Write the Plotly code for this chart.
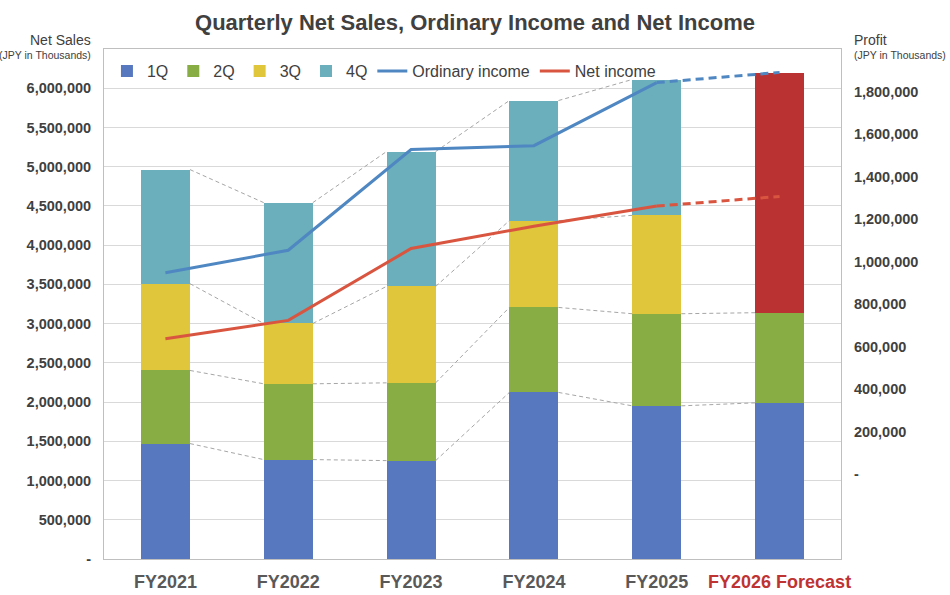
import plotly.graph_objects as go

# ---------------- data ----------------
years = ["FY2021", "FY2022", "FY2023", "FY2024", "FY2025", "FY2026 Forecast"]
q1 = [1471000, 1267000, 1254000, 2123000, 1952000, 1990000]
q2 = [932000, 966000, 991000, 1083000, 1174000, 1149000]
q3 = [1106000, 769000, 1229000, 1106000, 1254000, None]
q4 = [1454000, 1540000, 1719000, 1531000, 1731000, None]
forecast_total = [None, None, None, None, None, 6200000]
ordinary_income = [947000, 1053000, 1527000, 1545000, 1842000, 1890000]
net_income = [636000, 723000, 1061000, 1166000, 1261000, 1306000]

left_ticks = [0, 500000, 1000000, 1500000, 2000000, 2500000, 3000000,
              3500000, 4000000, 4500000, 5000000, 5500000, 6000000]
right_ticks = [0, 200000, 400000, 600000, 800000, 1000000, 1200000,
               1400000, 1600000, 1800000]

# ---------------- styling ----------------
C1, C2, C3, C4 = "#5778BF", "#88AD44", "#DFC63B", "#6AAFBB"
CF = "#BA3232"
C_ORD = "#4F87C2"
C_NET = "#D9553F"
TXT = "#404040"
FONT = "Liberation Sans, Arial, sans-serif"
BAR_W = 0.4

x = list(range(len(years)))

forecast_rest = [None if t is None else t - (a + b)
                 for t, a, b in zip(forecast_total, q1, q2)]

fig = go.Figure()

def cum(*series):
    out = []
    for vals in zip(*series):
        if any(v is None for v in vals):
            out.append(None)
        else:
            out.append(sum(vals))
    return out

# series connector lines (gray dashed) between stacked segment tops
levels = [cum(q1), cum(q1, q2), cum(q1, q2, q3), cum(q1, q2, q3, q4)]
for lev in levels:
    xs, ys = [], []
    for i in range(len(x) - 1):
        if lev[i] is None or lev[i + 1] is None:
            continue
        xs += [x[i] + BAR_W / 2, x[i + 1] - BAR_W / 2, None]
        ys += [lev[i], lev[i + 1], None]
    fig.add_trace(go.Scatter(x=xs, y=ys, mode="lines",
                             line=dict(color="#A6A6A6", width=1, dash="4px,3px"),
                             showlegend=False, hoverinfo="skip"))

for name, vals, col in [("1Q", q1, C1), ("2Q", q2, C2), ("3Q", q3, C3), ("4Q", q4, C4)]:
    fig.add_trace(go.Bar(x=x, y=vals, name=name, marker=dict(color=col, line=dict(width=0)),
                         width=BAR_W))
fig.add_trace(go.Bar(x=x, y=forecast_rest, name="Forecast", showlegend=False,
                     marker=dict(color=CF, line=dict(width=0)), width=BAR_W))

# lines on secondary axis: solid actuals, dashed forecast segment
fig.add_trace(go.Scatter(x=x[:5], y=ordinary_income[:5], name="Ordinary income",
                         mode="lines", line=dict(color=C_ORD, width=3), yaxis="y2"))
fig.add_trace(go.Scatter(x=x[4:], y=ordinary_income[4:], showlegend=False,
                         mode="lines", line=dict(color=C_ORD, width=3, dash="8px,5px"),
                         yaxis="y2"))
fig.add_trace(go.Scatter(x=x[:5], y=net_income[:5], name="Net income",
                         mode="lines", line=dict(color=C_NET, width=3), yaxis="y2"))
fig.add_trace(go.Scatter(x=x[4:], y=net_income[4:], showlegend=False,
                         mode="lines", line=dict(color=C_NET, width=3, dash="8px,5px"),
                         yaxis="y2"))

def fmt(v):
    return "-" if v == 0 else f"{v:,}"

ticktext_x = [f"<b>{y}</b>" for y in years[:-1]] + \
    [f"<b><span style='color:#BF3333'>{years[-1]}</span></b>"]

fig.update_layout(
    width=950, height=595,
    margin=dict(l=104, r=109, t=49, b=36, autoexpand=False),
    paper_bgcolor="white", plot_bgcolor="white",
    font=dict(family=FONT, color=TXT),
    barmode="stack",
    title=dict(text="<b>Quarterly Net Sales, Ordinary Income and Net Income</b>",
               x=0.5, xanchor="center", y=0.962, yanchor="middle",
               font=dict(size=22, color=TXT, family=FONT)),
    xaxis=dict(range=[-0.5, 5.5], tickvals=x, ticktext=ticktext_x,
               tickfont=dict(size=18, color="#595959"), automargin=False,
               showgrid=False, showline=True, linecolor="#BFBFBF", linewidth=1,
               mirror=True, ticks="", zeroline=False, ticklabelstandoff=6),
    yaxis=dict(range=[0, 6500000], tickvals=left_ticks,
               ticktext=[f"<b>{fmt(v)}</b>" for v in left_ticks],
               tickfont=dict(size=14.5, color=TXT), automargin=False,
               showgrid=True, gridcolor="#D9D9D9", gridwidth=1,
               showline=True, linecolor="#BFBFBF", linewidth=1,
               zeroline=False, ticks="", ticklabelstandoff=9),
    yaxis2=dict(range=[-400000, 2000000], overlaying="y", side="right",
                tickvals=right_ticks,
                ticktext=[f"<b>{fmt(v)}</b>" for v in right_ticks],
                tickfont=dict(size=14.5, color=TXT), automargin=False,
                showgrid=False, showline=True, linecolor="#BFBFBF", linewidth=1,
                zeroline=False, ticks="", ticklabelstandoff=9),
    legend=dict(orientation="h", x=0.004, xanchor="left", y=0.99, yanchor="top",
                font=dict(size=16, color=TXT), bgcolor="rgba(0,0,0,0)",
                traceorder="normal", itemwidth=30),
    showlegend=True,
)

annots = [
    dict(text="Net Sales", x=93, y=40, xanchor="right"),
    dict(text="(JPY in Thousands)", x=93, y=55, xanchor="right", size=10.5),
    dict(text="Profit", x=852, y=40, xanchor="left"),
    dict(text="(JPY in Thousands)", x=852, y=55, xanchor="left", size=10.5),
]
for a in annots:
    fig.add_annotation(text=a["text"], xref="paper", yref="paper",
                       x=(a["x"] - 104) / 737, y=(559 - a["y"]) / 510,
                       xanchor=a["xanchor"], yanchor="middle", showarrow=False,
                       font=dict(size=a.get("size", 14), color=TXT, family=FONT))

fig.write_html("out.html", config={"displayModeBar": False},
               post_script="document.body.style.margin='0px';document.body.style.padding='0px';")
